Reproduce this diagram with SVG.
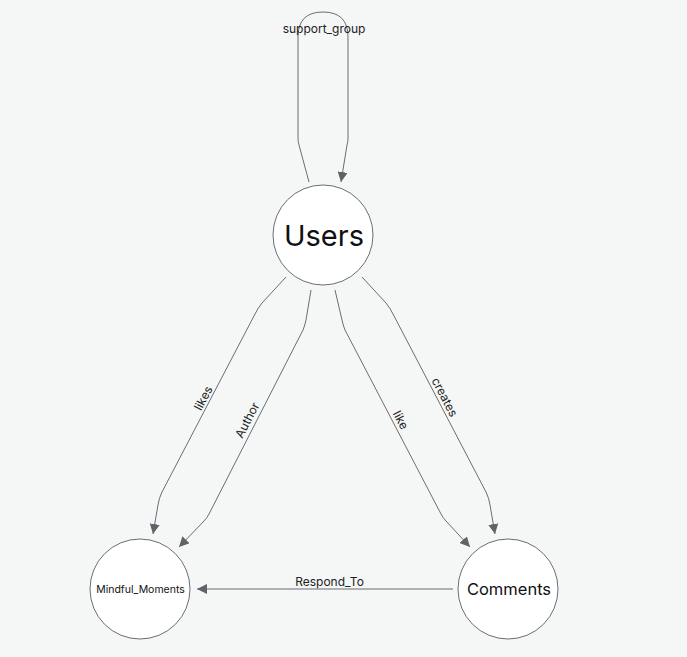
<svg xmlns="http://www.w3.org/2000/svg" width="687" height="657" viewBox="0 0 687 657">
<style>
.node{fill:#ffffff;stroke:#6a6d72;stroke-width:1}
.edge{fill:none;stroke:#6a6d72;stroke-width:1}
.lbl{font-family:Inter,"Liberation Sans",sans-serif;font-size:12px;fill:#222;text-anchor:middle;dominant-baseline:central}
.nt{font-family:Inter,"Liberation Sans",sans-serif;fill:#111;text-anchor:middle;dominant-baseline:central}
</style>
<defs>
<marker id="arr" viewBox="0 0 10 10" refX="10" refY="5" markerWidth="10" markerHeight="10" markerUnits="userSpaceOnUse" orient="auto">
<path d="M0,0 L10,5 L0,10 z" fill="#5f6368"/>
</marker>
</defs>
<rect width="687" height="657" fill="#f5f6f6"/>
<g id="connectors">
<path class="edge" marker-end="url(#arr)" d="M309,182 L299,145 Q298,142 298,138 L298,37 Q298,12 323,12 Q348,12 348,37 L348,138 Q348,142 347,145 L341,182"/>
<path class="edge" marker-end="url(#arr)" d="M286,277 L262,303 Q258,308 255,314 L162,492 Q159,498 158,505 L153,534"/>
<path class="edge" marker-end="url(#arr)" d="M311,290 L306,320 Q305,325 303,330 L209,514 Q207,518 204,521 L179,547"/>
<path class="edge" marker-end="url(#arr)" d="M335,290 L342,320 Q343,325 345,330 L441,514 Q443,518 446,521 L470,547"/>
<path class="edge" marker-end="url(#arr)" d="M362,277 L386,303 Q390,308 393,314 L486,492 Q489,498 490,505 L495,534"/>
<path class="edge" marker-end="url(#arr)" d="M453,589 L197,589"/>
<text class="lbl" x="324" y="28">support_group</text>
<text class="lbl" x="203" y="398" transform="rotate(-62.4 203 398)">likes</text>
<text class="lbl" x="247" y="420" transform="rotate(-62.7 247 420)">Author</text>
<text class="lbl" x="401" y="420" transform="rotate(62.6 401 420)">like</text>
<text class="lbl" x="445" y="397" transform="rotate(62.3 445 397)">creates</text>
<text class="lbl" x="329.5" y="581">Respond_To</text>
</g>
<g id="users">
<circle class="node" cx="323" cy="235" r="50"/>
<text class="nt" x="324" y="235" font-size="29">Users</text>
</g>
<g id="mindful_moments">
<circle class="node" cx="140" cy="589" r="50"/>
<text class="nt" x="140.5" y="589" font-size="10.5">Mindful_Moments</text>
</g>
<g id="comments">
<circle class="node" cx="508" cy="589" r="50"/>
<text class="nt" x="509" y="589" font-size="16.5">Comments</text>
</g>
</svg>
